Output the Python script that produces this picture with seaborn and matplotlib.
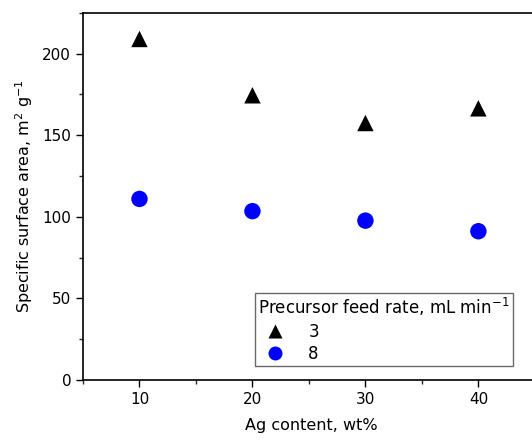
import numpy as np
import pandas as pd
import matplotlib.pyplot as plt
import seaborn as sns
from matplotlib.ticker import MultipleLocator

ag_content = [10, 20, 30, 40]
feed_rate_3 = [209, 174.5, 157.5, 166.5]
feed_rate_8 = [111, 103.5, 97.7, 91.2]


def main():
    df = pd.DataFrame({
        'Ag': ag_content * 2,
        'SSA': feed_rate_3 + feed_rate_8,
        'rate': ['3'] * 4 + ['8'] * 4,
    })

    sns.set_theme(style='ticks')
    plt.rcParams['font.family'] = ['DejaVu Sans']
    plt.rcParams['text.color'] = 'black'
    plt.rcParams['axes.labelcolor'] = 'black'

    fig = plt.figure(figsize=(5.32, 4.43), dpi=100)
    ax = fig.add_axes([0.156, 0.142, 0.86, 0.829])

    sns.scatterplot(
        data=df, x='Ag', y='SSA', hue='rate', style='rate',
        palette={'3': 'black', '8': '#0000ff'},
        markers={'3': '^', '8': 'o'},
        s=140, edgecolor='none', ax=ax
    )

    ax.set_xlim(5, 45.5)
    ax.set_ylim(0, 225)
    ax.xaxis.set_major_locator(MultipleLocator(10))
    ax.xaxis.set_minor_locator(MultipleLocator(5))
    ax.yaxis.set_major_locator(MultipleLocator(50))
    ax.yaxis.set_minor_locator(MultipleLocator(25))
    ax.tick_params(which='major', direction='out', length=5, width=1, labelsize=11, colors='black')
    ax.tick_params(which='minor', direction='out', length=3, width=1)
    ax.spines['right'].set_visible(False)
    for s in ['left', 'bottom', 'top']:
        ax.spines[s].set_linewidth(1.2)
        ax.spines[s].set_color('black')

    ax.set_xlabel('Ag content, wt%', fontsize=11.5, labelpad=8)
    ax.set_ylabel('Specific surface area, m$^2$ g$^{-1}$', fontsize=11.5, labelpad=5)

    leg = ax.legend(title='Precursor feed rate, mL min$^{-1}$', loc='lower right',
                    bbox_to_anchor=(0.94, 0.038), fontsize=12, title_fontsize=12,
                    frameon=True, fancybox=False, markerscale=0.85,
                    handletextpad=1.0, borderpad=0.2, labelspacing=0.25,
                    borderaxespad=0.0)
    leg._legend_box.align = 'left'
    leg.get_frame().set_edgecolor('#444444')
    leg.get_frame().set_linewidth(1)

    plt.savefig('out.png', dpi=100)


if __name__ == "__main__":
    main()
